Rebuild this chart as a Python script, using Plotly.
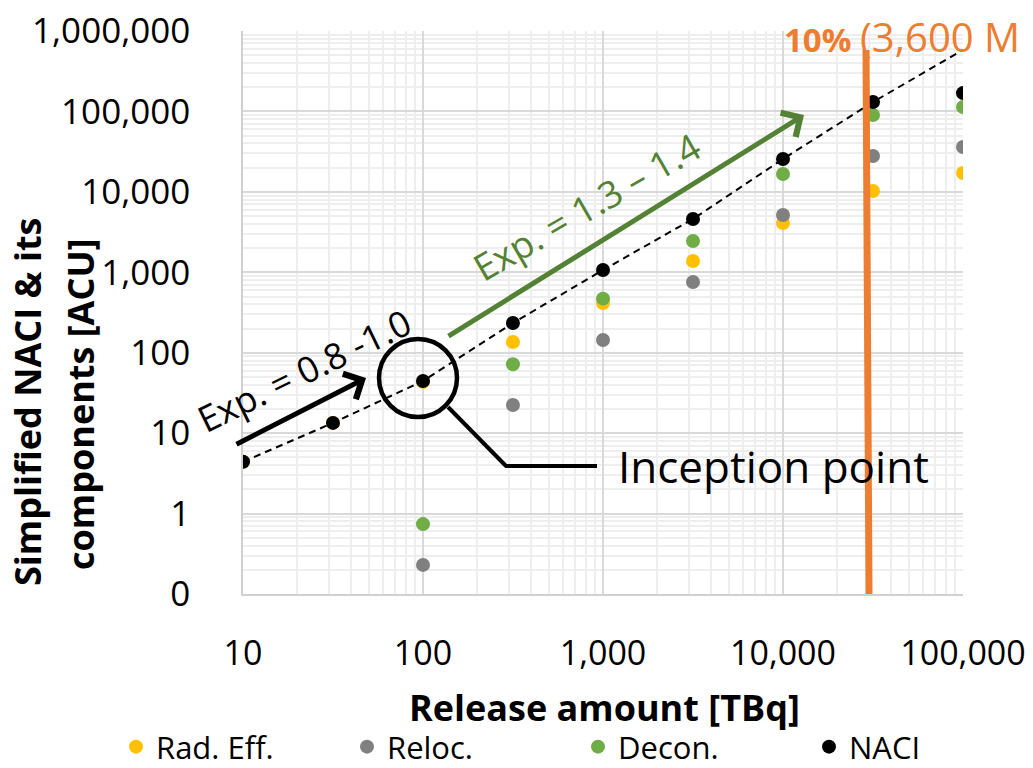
import plotly.graph_objects as go
import numpy as np

# ---------------- data ----------------
release = [10, 31.6, 100, 316, 1000, 3162, 10000, 31623, 100000]
rad_eff = [4.4, 13.4, 43.5, 136, 415, 1380, 4100, 10250, 17150]
reloc = [None, None, 0.23, 22.4, 144, 757, 5150, 27900, 36100]
decon = [None, None, 0.74, 72, 470, 2450, 16700, 90300, 113600]
naci = [4.4, 13.4, 44.5, 234, 1067, 4600, 25600, 131000, 169000]
trend = [4.4, 13.4, 44.5, 234, 1067, 4600, 25600, 131000, 580000]

x_tickvals = [10, 100, 1000, 10000, 100000]
x_ticktext = ["10", "100", "1,000", "10,000", "100,000"]
y_tickvals = [0.1, 1, 10, 100, 1000, 10000, 100000, 1000000]
y_ticktext = ["0", "1", "10", "100", "1,000", "10,000", "100,000", "1,000,000"]

FONT = "Open Sans"
C_YEL = "#FFC000"
C_GRY = "#808080"
C_GRN = "#70AD47"
C_BLK = "#000000"
C_ORG = "#ED7D31"
C_DGRN = "#548235"

fig = go.Figure()

fig.add_trace(go.Scatter(x=release, y=trend, mode="lines", showlegend=False,
                         line=dict(color="black", width=2, dash="7px,5px"),
                         hoverinfo="skip"))
for name, vals, col in [("Rad. Eff.", rad_eff, C_YEL), ("Reloc.", reloc, C_GRY),
                        ("Decon.", decon, C_GRN), ("NACI", naci, C_BLK)]:
    fig.add_trace(go.Scatter(x=release, y=vals, mode="markers", name=name,
                             marker=dict(color=col, size=14, line=dict(width=0))))

minor_x = [k * 10 ** d for d in range(1, 5) for k in range(2, 10)]
minor_y = [k * 10 ** d for d in range(-1, 6) for k in range(2, 10)]

fig.update_xaxes(type="log", range=[1, 5], tickmode="array", tickvals=x_tickvals,
                 ticktext=x_ticktext, showgrid=True, gridcolor="#d9d9d9", gridwidth=1.5,
                 minor=dict(tickmode="array", tickvals=minor_x, showgrid=True,
                            gridcolor="#eeeeee", gridwidth=1.5, ticks=""),
                 ticks="", showline=True, linecolor="#d0d0d0", linewidth=1.5,
                 zeroline=False, ticklabelstandoff=28,
                 tickfont=dict(family=FONT, size=34, color="black"))
fig.update_yaxes(type="log", range=[-1, 6], tickmode="array", tickvals=y_tickvals,
                 ticktext=y_ticktext, showgrid=True, gridcolor="#d9d9d9", gridwidth=1.5,
                 minor=dict(tickmode="array", tickvals=minor_y, showgrid=True,
                            gridcolor="#eeeeee", gridwidth=1.5, ticks=""),
                 ticks="", showline=True, linecolor="#d0d0d0", linewidth=1.5,
                 zeroline=False, ticklabelstandoff=44,
                 tickfont=dict(family=FONT, size=35, color="black"))

PL, PR, PT, PB = 243, 963, 31, 594   # plot-area pixel box
PW, PH = PR - PL, PB - PT


def lx(px):
    return 1 + (px - PL) / (PW / 4.0)


def ly(py):
    return 6 - (py - PT) / (PH / 7.0)


def paper_x(px):
    return (px - PL) / PW


def paper_y(py):
    return (PB - py) / PH


annotations = []
# arrows
annotations.append(dict(x=lx(366), y=ly(378), ax=lx(235), ay=ly(445), xref="x", yref="y",
                        axref="x", ayref="y", showarrow=True, arrowhead=4, arrowsize=1.1,
                        arrowwidth=5, arrowcolor="black", text=""))
annotations.append(dict(x=lx(804), y=ly(115), ax=lx(447), ay=ly(337), xref="x", yref="y",
                        axref="x", ayref="y", showarrow=True, arrowhead=4, arrowsize=1.1,
                        arrowwidth=5, arrowcolor=C_DGRN, text=""))
# texts
annotations.append(dict(x=lx(304), y=ly(370), xref="x", yref="y", showarrow=False,
                        text="Exp. = 0.8 -1.0", textangle=-26,
                        font=dict(family=FONT, size=36, color="black")))
annotations.append(dict(x=lx(586), y=ly(206), xref="x", yref="y", showarrow=False,
                        text="Exp. = 1.3 – 1.4", textangle=-30,
                        font=dict(family=FONT, size=37, color=C_DGRN)))
annotations.append(dict(x=lx(616), y=ly(466), xref="x", yref="y", showarrow=False,
                        xanchor="left", yanchor="middle", text="Inception point",
                        font=dict(family=FONT, size=44, color="black")))
annotations.append(dict(x=paper_x(782), y=paper_y(36), xref="paper", yref="paper",
                        showarrow=False, xanchor="left", yanchor="middle",
                        text="<b>10%</b> <span style='font-size:40px'>(3,600 M</span>",
                        font=dict(family=FONT, size=33, color=C_ORG)))
# axis titles
annotations.append(dict(x=paper_x(604), y=paper_y(707), xref="paper", yref="paper",
                        showarrow=False, text="<b>Release amount [TBq]</b>",
                        xanchor="center", yanchor="middle",
                        font=dict(family=FONT, size=36, color="black")))
annotations.append(dict(x=paper_x(28), y=paper_y(402), xref="paper", yref="paper",
                        showarrow=False, text="<b>Simplified NACI &amp; its</b>", textangle=-90,
                        xanchor="center", yanchor="middle",
                        font=dict(family=FONT, size=36, color="black")))
annotations.append(dict(x=paper_x(80), y=paper_y(404), xref="paper", yref="paper",
                        showarrow=False, text="<b>components [ACU]</b>", textangle=-90,
                        xanchor="center", yanchor="middle",
                        font=dict(family=FONT, size=36, color="black")))

shapes = []
# inception circle
shapes.append(dict(type="circle", xref="x", yref="y",
                   x0=10 ** lx(379), x1=10 ** lx(457), y0=10 ** ly(417), y1=10 ** ly(339),
                   line=dict(color="black", width=4.5)))
# leader line
shapes.append(dict(type="line", xref="x", yref="y", x0=10 ** lx(448), y0=10 ** ly(407),
                   x1=10 ** lx(506), y1=10 ** ly(466), line=dict(color="black", width=4)))
shapes.append(dict(type="line", xref="x", yref="y", x0=10 ** lx(505), y0=10 ** ly(466),
                   x1=10 ** lx(597), y1=10 ** ly(466), line=dict(color="black", width=4)))
# orange line
shapes.append(dict(type="line", xref="x", yref="y", x0=10 ** lx(866), y0=10 ** ly(50),
                   x1=10 ** lx(869), y1=0.1, line=dict(color=C_ORG, width=7)))

fig.update_layout(
    width=1033, height=768,
    margin=dict(l=PL, r=1033 - PR, t=PT, b=768 - PB, autoexpand=False),
    plot_bgcolor="white", paper_bgcolor="white",
    font=dict(family=FONT, color="black"),
    annotations=annotations, shapes=shapes,
    legend=dict(orientation="h", x=paper_x(116), xanchor="left",
                y=paper_y(747), yanchor="middle",
                font=dict(family=FONT, size=31, color="black"),
                entrywidth=186, entrywidthmode="pixels", itemwidth=30,
                bgcolor="rgba(0,0,0,0)"),
)

fig.write_html("out.html")
